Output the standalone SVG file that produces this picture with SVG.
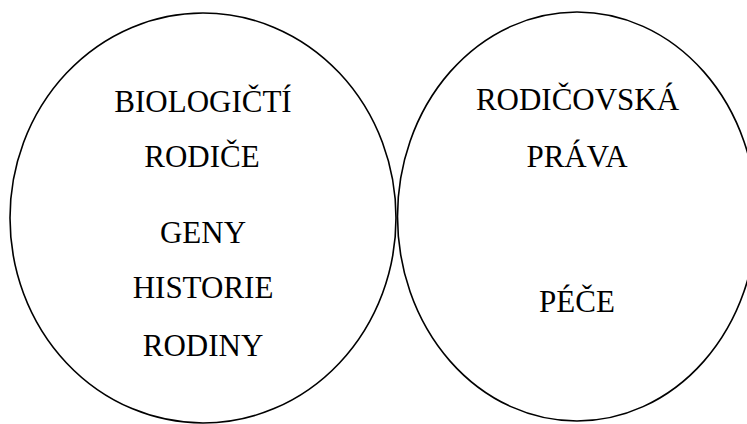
<svg xmlns="http://www.w3.org/2000/svg" width="747" height="424" viewBox="0 0 747 424">
<style>
.c{fill:none;stroke:#000;stroke-width:1.6}
.t{font-family:"Liberation Serif","Times New Roman",serif;font-size:31px;fill:#000;text-anchor:middle}
</style>
<rect width="747" height="424" fill="#fff"/>
<g id="biologicti">
<ellipse class="c" cx="203" cy="218" rx="193" ry="205"/>
<text class="t" x="203" y="112">BIOLOGIČTÍ</text>
<text class="t" x="202" y="167">RODIČE</text>
<text class="t" x="203" y="243">GENY</text>
<text class="t" x="203" y="298">HISTORIE</text>
<text class="t" x="203" y="356">RODINY</text>
</g>
<g id="rodicovska">
<ellipse class="c" cx="577" cy="216.5" rx="179.5" ry="204.5"/>
<text class="t" x="577.5" y="110">RODIČOVSKÁ</text>
<text class="t" x="577" y="167">PRÁVA</text>
<text class="t" x="577" y="312">PÉČE</text>
</g>
<g id="connectors"/>
</svg>
